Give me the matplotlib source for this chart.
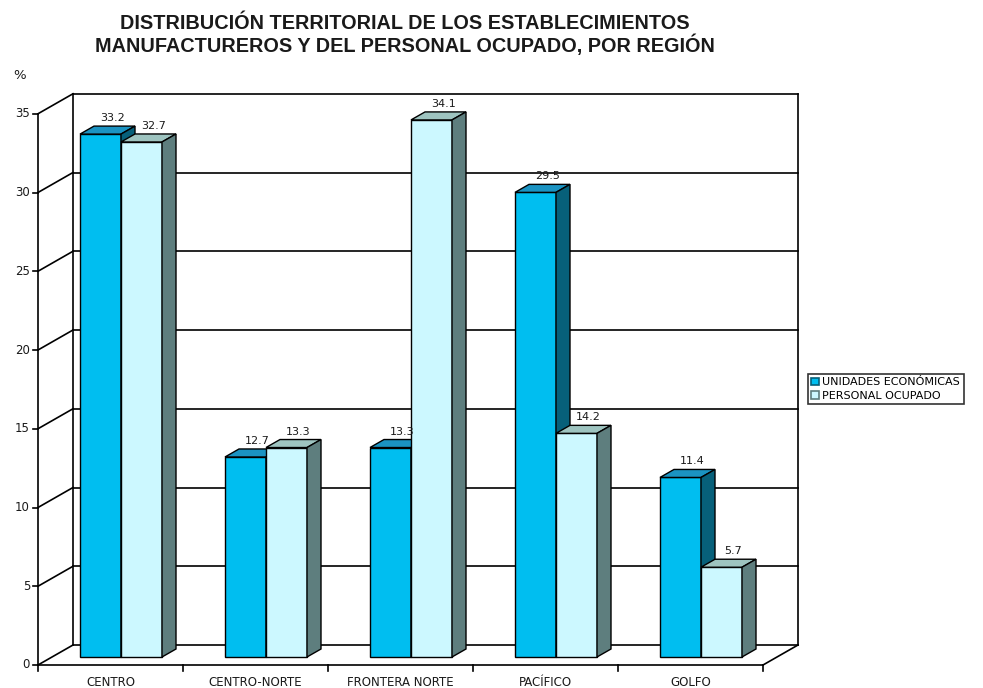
import numpy as np
import matplotlib.pyplot as plt
from matplotlib.patches import Polygon, Patch

# data
regiones = ["CENTRO", "CENTRO-NORTE", "FRONTERA NORTE", "PACÍFICO", "GOLFO"]
unidades = [33.2, 12.7, 13.3, 29.5, 11.4]
personal = [32.7, 13.3, 34.1, 14.2, 5.7]
y_ticks = [0, 5, 10, 15, 20, 25, 30, 35]
series_names = ["UNIDADES ECONÓMICAS", "PERSONAL OCUPADO"]

# colours: front, top, side
col_blue = ("#00BEF0", "#1B93C2", "#07607A")
col_light = ("#CCF8FF", "#9EC4C0", "#5E7E7E")
txt = "#1a1a1a"

fig = plt.figure(figsize=(9.83, 6.88), dpi=100)
ax = fig.add_axes([0, 0, 1, 1])

# pixel scale of the pseudo 3d box
px_x = 145.0   # px per category
px_y = 15.75   # px per percent unit
ax.set_xlim(-38 / px_x, (983 - 38) / px_x)
ax.set_ylim(-23 / px_y, 665 / px_y)
ax.axis("off")

n = len(regiones)
ymax = y_ticks[-1]
wx, wy = 35 / px_x, 20 / px_y      # depth of back wall
bx, by = 14 / px_x, 8 / px_y       # offset of bar front plane
dx, dy = 14 / px_x, 8 / px_y       # depth of bars
bw = 41 / px_x                     # bar width
gap = 28 / px_x                    # from group start to first bar
lw = 1.2

# back wall, gridlines and side diagonals
for t in y_ticks:
    ax.plot([wx, n + wx], [t + wy, t + wy], color="black", lw=lw, zorder=1)
    ax.plot([0, wx], [t, t + wy], color="black", lw=lw, zorder=1)
    ax.plot([-5 / px_x, 0], [t, t], color="black", lw=lw, zorder=1)
    ax.text(-8 / px_x, t, str(t), ha="right", va="center", fontsize=8.5,
            color=txt)
ax.plot([wx, wx], [wy, ymax + wy], color="black", lw=lw, zorder=1)
ax.plot([n + wx, n + wx], [wy, ymax + wy], color="black", lw=lw, zorder=1)
ax.plot([0, 0], [0, ymax], color="black", lw=lw, zorder=1)
ax.plot([0, n], [0, 0], color="black", lw=lw, zorder=1)
ax.plot([n, n + wx], [0, wy], color="black", lw=lw, zorder=1)
for i in range(n + 1):
    ax.plot([i, i], [0, -6 / px_y], color="black", lw=lw, zorder=1)

ax.text(-18 / px_x, ymax + 38 / px_y, "%", ha="center", va="center",
        fontsize=9.5, color=txt)


def bar3d(x0, val, cols, z):
    xl = x0 + bx
    xr = xl + bw
    top = val + by
    ax.bar(xl, val, width=bw, bottom=by, align="edge", color=cols[0],
           edgecolor="black", lw=1.0, zorder=z)
    ax.add_patch(Polygon([(xl, top), (xl + dx, top + dy), (xr + dx, top + dy),
                          (xr, top)], closed=True, facecolor=cols[1],
                         edgecolor="black", lw=1.0, zorder=z))
    ax.add_patch(Polygon([(xr, by), (xr + dx, by + dy), (xr + dx, top + dy),
                          (xr, top)], closed=True, facecolor=cols[2],
                         edgecolor="black", lw=1.0, zorder=z))
    ax.text((xl + xr) / 2 + 12 / px_x, top + dy + 3 / px_y, f"{val:.1f}",
            ha="center", va="bottom", fontsize=8, color=txt, zorder=10)


for i in range(n):
    x0 = i + gap
    bar3d(x0, unidades[i], col_blue, 3 + 2 * i)
    bar3d(x0 + bw, personal[i], col_light, 4 + 2 * i)
    ax.text(i + 0.5, -18 / px_y, regiones[i], ha="center", va="center",
            fontsize=8.5, color=txt)

# title
fig.text(0.412, 0.966, "DISTRIBUCIÓN TERRITORIAL DE LOS ESTABLECIMIENTOS",
         ha="center", va="center", fontsize=14.3, fontweight="bold",
         family="Liberation Sans", color=txt)
fig.text(0.412, 0.934, "MANUFACTUREROS Y DEL PERSONAL OCUPADO, POR REGIÓN",
         ha="center", va="center", fontsize=14.3, fontweight="bold",
         family="Liberation Sans", color=txt)

handles = [Patch(facecolor=col_blue[0], edgecolor=col_blue[2], lw=1.2),
           Patch(facecolor=col_light[0], edgecolor=col_light[2], lw=1.2)]
leg = fig.legend(handles, series_names, loc="center left",
                 bbox_to_anchor=(808 / 983, 1 - 389 / 688), fontsize=8,
                 frameon=True, fancybox=False, edgecolor="black",
                 handlelength=0.7, handleheight=0.7, handletextpad=0.3,
                 borderpad=0.3, labelspacing=0.3, borderaxespad=0)
leg.get_frame().set_linewidth(1.2)

fig.savefig("out.png", dpi=100)
